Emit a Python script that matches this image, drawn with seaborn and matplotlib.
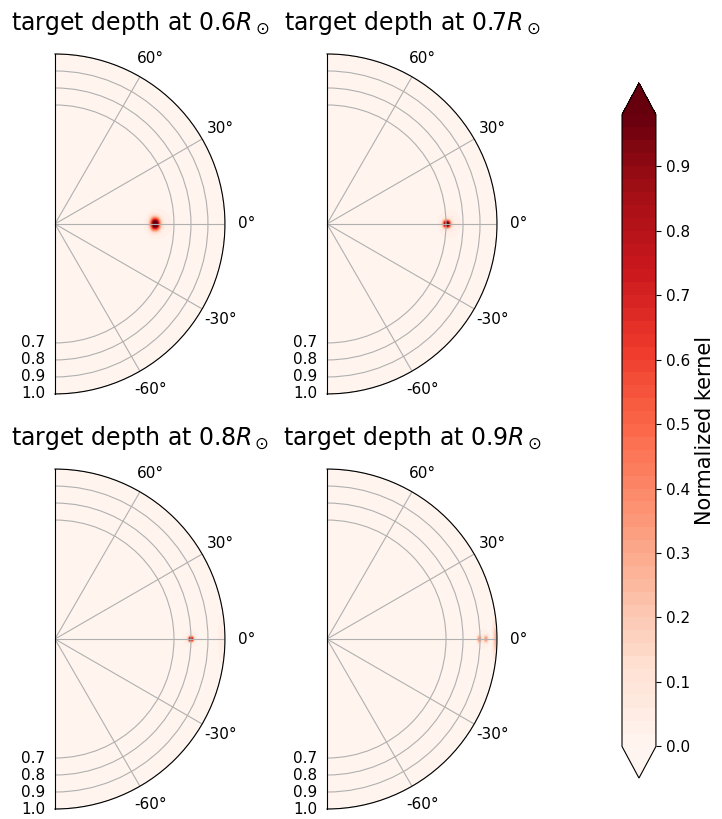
import numpy as np
import matplotlib
matplotlib.use("Agg")
import matplotlib.pyplot as plt
import seaborn as sns

sns.set_style("ticks", rc={"text.color": "black", "axes.edgecolor": "black",
                           "xtick.color": "black", "ytick.color": "black",
                           "axes.labelcolor": "black"})
plt.rcParams["font.family"] = ["DejaVu Sans"]

# target depths of the four panels
depths = [0.6, 0.7, 0.8, 0.9]

# kernel components per panel: radius, latitude (deg), radial width, angular width (deg), amplitude
comp_r = [[0.59, 0.59, 0.64],
          [0.705, 0.705, 0.75],
          [0.80, 0.80, 0.985],
          [0.897, 0.935, 0.997, 0.92]]
comp_lat = [[0, 0, 0],
            [0, 0, 0],
            [0, 0, 0],
            [0, 0, 0, 0]]
comp_wr = [[0.017, 0.05, 0.06],
           [0.013, 0.04, 0.05],
           [0.009, 0.035, 0.015],
           [0.007, 0.007, 0.012, 0.03]]
comp_wlat = [[2.2, 5.0, 7.0],
             [1.1, 4.0, 6.0],
             [0.7, 3.0, 6.0],
             [0.8, 0.8, 3.5, 3.0]]
comp_amp = [[1.15, 0.04, 0.02],
            [1.10, 0.04, 0.02],
            [0.85, 0.04, 0.05],
            [0.35, 0.30, 0.28, 0.04]]

levels = np.arange(0, 1.0, 0.02)
cbar_ticks = np.arange(0, 1.0, 0.1)
rticks = [0.7, 0.8, 0.9, 1.0]
theta_ticks = [-60, -30, 0, 30, 60]

cmap = sns.color_palette("Reds", as_cmap=True)

r = np.linspace(0, 1, 600)
lat = np.linspace(-90, 90, 1801)
TH, R = np.meshgrid(np.deg2rad(lat), r)

fig = plt.figure(figsize=(7.22, 8.19), dpi=100)
# square boxes; the half disk is centred inside each one
positions = [[-0.0416, 0.519, 0.4709, 0.4151],
             [0.3352, 0.519, 0.4709, 0.4151],
             [-0.0416, 0.0122, 0.4709, 0.4151],
             [0.3352, 0.0122, 0.4709, 0.4151]]

for i, d in enumerate(depths):
    ax = fig.add_axes(positions[i], projection="polar")
    K = np.zeros_like(R)
    for r0, t0, wr, wt, a in zip(comp_r[i], comp_lat[i], comp_wr[i], comp_wlat[i], comp_amp[i]):
        arc = R * (TH - np.deg2rad(t0))
        K += a * np.exp(-0.5 * ((R - r0) / wr) ** 2
                        - 0.5 * (arc / (r0 * np.deg2rad(wt))) ** 2)
    cs = ax.contourf(TH, R, K, levels=levels, cmap=cmap, extend="both")
    ax.set_thetamin(-90)
    ax.set_thetamax(90)
    ax.set_rlim(0, 1)
    ax.set_rticks(rticks)
    ax.set_thetagrids(theta_ticks)
    ax.set_axisbelow("line")
    ax.grid(True, color="#b0b0b0", linewidth=0.8)
    ax.tick_params(labelsize=11)
    ax.tick_params(axis="x", pad=5)
    ax.set_title(f"target depth at {d}$R_\\odot$", fontsize=17, pad=17)

cax = fig.add_axes([0.8615, 0.050, 0.047, 0.8487])
cb = fig.colorbar(cs, cax=cax)
cb.set_ticks(cbar_ticks)
cb.ax.yaxis.set_major_formatter(matplotlib.ticker.FormatStrFormatter("%.1f"))
cb.ax.tick_params(labelsize=11)
cb.set_label("Normalized kernel", fontsize=15)

fig.savefig("out.png", dpi=100)
